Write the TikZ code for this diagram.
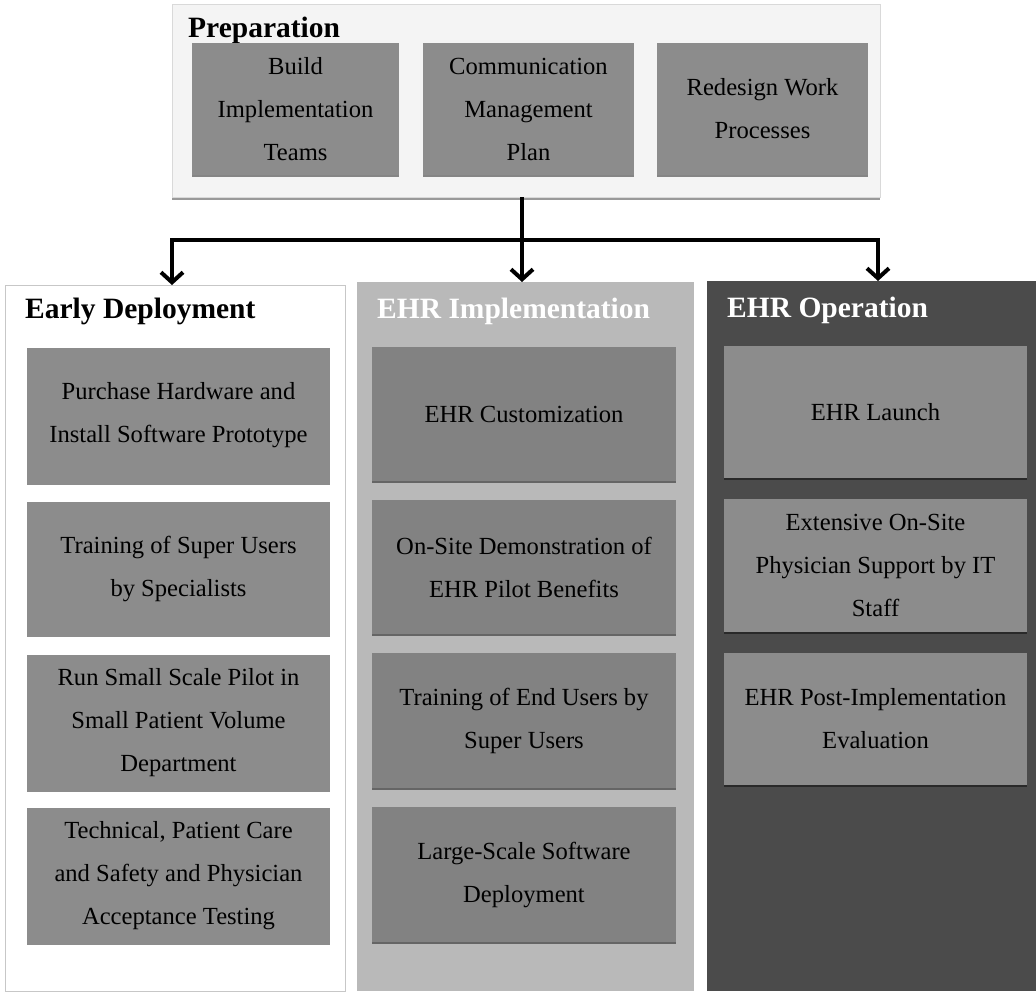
\documentclass[tikz,border=0pt]{standalone}
\usepackage{fontspec}
\setmainfont{Liberation Serif}
\usetikzlibrary{arrows.meta,shadows}

\definecolor{boxgray}{HTML}{8C8C8C}
\definecolor{boxgraymid}{HTML}{828282}
\definecolor{prepbg}{HTML}{F4F4F4}
\definecolor{implbg}{HTML}{B9B9B9}
\definecolor{operbg}{HTML}{4B4B4B}

\tikzset{
  panel/.style={anchor=north west, inner sep=0pt, outer sep=0pt},
  stepbox/.style={anchor=north west, inner sep=0pt, outer sep=0pt,
    fill=boxgray, align=center,
    font=\fontsize{24.6}{43}\selectfont,
    drop shadow={shadow xshift=0pt, shadow yshift=-2pt, opacity=0.45, fill=black}},
  phasetitle/.style={anchor=base west, inner sep=0pt,
    font=\fontsize{29.5}{34}\selectfont\bfseries},
  flow/.style={line width=4pt, draw=black},
  flowarrow/.style={flow, -{Straight Barb[length=10pt,width=22pt,line width=4pt]}},
}

\begin{document}
\begin{tikzpicture}[x=1pt,y=-1pt]
\useasboundingbox (0,0) rectangle (1036,991);

% ---- Preparation panel ----
\node[panel, fill=prepbg, draw=black!15,
      drop shadow={shadow xshift=0pt, shadow yshift=-3pt, opacity=0.4, fill=black},
      minimum width=708pt, minimum height=193pt] (prep) at (172,4) {};
\node[phasetitle] (preptitle) at (188,37) {Preparation};
\node[stepbox, minimum width=207pt, minimum height=132pt] (p1) at (192,43)
  {Build\\Implementation\\Teams};
\node[stepbox, minimum width=211pt, minimum height=132pt] (p2) at (423,43)
  {Communication\\Management\\Plan};
\node[stepbox, minimum width=211pt, minimum height=132pt] (p3) at (657,43)
  {Redesign Work\\Processes};

% ---- phase columns ----
\node[panel, fill=white, draw=black!22, line width=0.8pt,
      minimum width=340pt, minimum height=706pt] (early) at (5,285) {};
\node[panel, fill=implbg, minimum width=337pt, minimum height=709pt] (impl) at (357,282) {};
\node[panel, fill=operbg, minimum width=329pt, minimum height=710pt] (oper) at (707,281) {};

\node[phasetitle] (earlytitle) at (25,318) {Early Deployment};
\node[phasetitle, text=white] (impltitle) at (377,318) {EHR Implementation};
\node[phasetitle, text=white] (opertitle) at (727,317) {EHR Operation};

% Early Deployment steps
\node[stepbox, minimum width=303pt, minimum height=135pt] (e1) at (27,348)
  {Purchase Hardware and\\Install Software Prototype};
\node[stepbox, minimum width=303pt, minimum height=133pt] (e2) at (27,502)
  {Training of Super Users\\by Specialists};
\node[stepbox, minimum width=303pt, minimum height=135pt] (e3) at (27,655)
  {Run Small Scale Pilot in\\Small Patient Volume\\Department};
\node[stepbox, minimum width=303pt, minimum height=135pt] (e4) at (27,808)
  {Technical, Patient Care\\and Safety and Physician\\Acceptance Testing};

% EHR Implementation steps
\node[stepbox, fill=boxgraymid, minimum width=304pt, minimum height=134pt] (i1) at (372,347)
  {EHR Customization};
\node[stepbox, fill=boxgraymid, minimum width=304pt, minimum height=134pt] (i2) at (372,500)
  {On-Site Demonstration of\\EHR Pilot Benefits};
\node[stepbox, fill=boxgraymid, minimum width=304pt, minimum height=135pt] (i3) at (372,653)
  {Training of End Users by\\Super Users};
\node[stepbox, fill=boxgraymid, minimum width=304pt, minimum height=135pt] (i4) at (372,807)
  {Large-Scale Software\\Deployment};

% EHR Operation steps
\node[stepbox, minimum width=303pt, minimum height=132pt] (o1) at (724,346)
  {EHR Launch};
\node[stepbox, minimum width=303pt, minimum height=133pt] (o2) at (724,499)
  {Extensive On-Site\\Physician Support by IT\\Staff};
\node[stepbox, minimum width=303pt, minimum height=132pt] (o3) at (724,653)
  {EHR Post-Implementation\\Evaluation};

% ---- connectors ----
\coordinate (hub) at (522,240);
\coordinate (hubL) at (172,240);
\coordinate (hubR) at (878,240);
\draw[flow] (prep.south -| hub) -- (hub);
\draw[flow, line cap=rect] (hubL) -- (hubR);
\draw[flowarrow] (hubL) -- (hubL |- early.north);
\draw[flowarrow] (hub) -- (hub |- impl.north);
\draw[flowarrow] (hubR) -- (hubR |- oper.north);
\end{tikzpicture}
\end{document}
